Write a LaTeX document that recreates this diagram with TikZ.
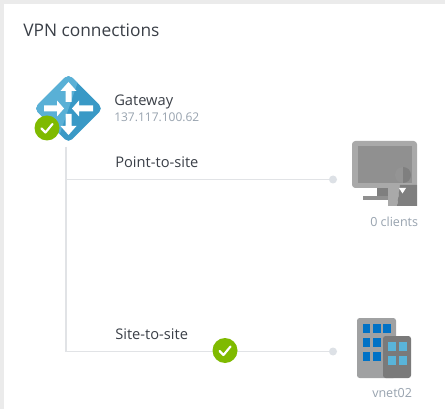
\documentclass[tikz,border=0pt]{standalone}
\usepackage{fontspec}
\setmainfont{Open Sans}
\definecolor{framegray}{HTML}{EBEBEB}
\definecolor{linegray}{HTML}{E1E3E6}
\definecolor{dotgray}{HTML}{DDE1E6}
\definecolor{inktext}{HTML}{3A3F47}
\definecolor{subtext}{HTML}{98A3AF}
\definecolor{okgreen}{HTML}{7FBA00}
\definecolor{azlight}{HTML}{59B0D6}
\definecolor{azdark}{HTML}{3999C6}
\definecolor{monframe}{HTML}{A9A9A9}
\definecolor{monscreen}{HTML}{909090}
\definecolor{mondark}{HTML}{7F7F7F}
\definecolor{bldlight}{HTML}{A0A1A2}
\definecolor{blddark}{HTML}{7A7A7A}
\definecolor{winblue}{HTML}{0072C6}
\definecolor{winlight}{HTML}{59B4D9}
\tikzset{
  x=0.75pt,y=-0.75pt,
  conn/.style={draw=linegray,line width=1.1pt},
  enddot/.style={circle,fill=dotgray,draw=none,minimum size=6pt,inner sep=0pt},
  okbadge/.style={circle,fill=okgreen,draw=none,minimum size=18.75pt,inner sep=0pt},
  tick/.style={draw=white,line width=1.6pt,line cap=round,line join=round},
  lab/.style={anchor=base west,inner sep=0pt,text=inktext,font=\fontsize{11}{13}\selectfont},
  sublab/.style={anchor=base west,inner sep=0pt,text=subtext,font=\fontsize{9.4}{11}\selectfont},
  titlelab/.style={anchor=base west,inner sep=0pt,text=inktext,font=\fontsize{13}{15}\selectfont},
}
\begin{document}
\begin{tikzpicture}
\useasboundingbox (0,0) rectangle (445,409);
\fill[white] (0,0) rectangle (445,409);
\fill[framegray] (0,0) rectangle (445,4);
\fill[framegray] (0,0) rectangle (4,409);

\node[titlelab] (title) at (23,37) {VPN connections};

% connectors
\coordinate (trunktop) at (66,147);
\coordinate (p2sjoin) at (66,179.5);
\coordinate (s2sjoin) at (66,351.5);
\node[enddot] (p2sdot) at (333,179.5) {};
\node[enddot] (s2sdot) at (333,351.5) {};
\draw[conn] (trunktop) -- (s2sjoin) -- (s2sdot);
\draw[conn] (p2sjoin) -- (p2sdot);

% gateway icon
\begin{scope}
  \clip[rounded corners=4pt] (34,108.5) -- (68.5,74) -- (103,108.5) -- (68.5,143) -- cycle;
  \fill[azdark] (30,70) rectangle (105,145);
  \fill[azlight] (30,70) -- (82,70) -- (56,145) -- (30,145) -- cycle;
\end{scope}
\fill[white] (68.5,82) -- (76.5,91) -- (71.5,91) -- (71.5,102) -- (65.5,102) -- (65.5,91) -- (60.5,91) -- cycle;
\fill[white] (68.5,135) -- (76.5,126) -- (71.5,126) -- (71.5,114) -- (65.5,114) -- (65.5,126) -- (60.5,126) -- cycle;
\fill[white] (64,108.5) -- (57,100.5) -- (57,105.5) -- (44,105.5) -- (44,111.5) -- (57,111.5) -- (57,116.5) -- cycle;
\fill[white] (72,108.5) -- (79,100.5) -- (79,105.5) -- (93,105.5) -- (93,111.5) -- (79,111.5) -- (79,116.5) -- cycle;
\node[okbadge] (gwok) at (47,128) {};
\draw[tick] (41.5,128.5) -- (45.5,132.5) -- (52.5,124);

\node[lab] (gwname) at (114,105.5) {Gateway};
\node[sublab,font=\fontsize{9}{11}\selectfont] (gwip) at (114,121.5) {137.117.100.62};
\node[lab] (p2slab) at (115,168) {Point-to-site};
\node[lab] (s2slab) at (115,339.5) {Site-to-site};

\node[okbadge] (s2sok) at (225,350.5) {};
\draw[tick] (219.5,351) -- (223.5,355) -- (230.5,346.5);

% clients icon
\fill[mondark!60!monframe] (363,196) rectangle (390,200.5);
\fill[mondark] (377,186) rectangle (389,196);
\fill[monframe,rounded corners=2.5pt] (352,141) rectangle (417,188);
\fill[monscreen] (358,146) rectangle (412,183);
\begin{scope}
  \clip (395,167) rectangle (403,183);
  \fill[monscreen!85!monframe] (403,175) circle [radius=8];
\end{scope}
\begin{scope}
  \clip (403,167) rectangle (411,183);
  \fill[mondark] (403,175) circle [radius=8];
\end{scope}
\fill[monframe] (388,186) -- (400,186) -- (397,206) -- (388,206) -- cycle;
\fill[mondark] (400,185) -- (417,185) -- (417,206) -- (397,206) -- cycle;
\fill[white] (399,188) -- (406,188) -- (402.5,193.5) -- cycle;
\node[sublab] (clientslab) at (370,226.5) {0 clients};

% site icon
\fill[bldlight,rounded corners=2pt] (357,318) rectangle (396,378);
\foreach \wx/\ww in {363/7,373/8,383/8}{
  \foreach \wy in {324,338,352}{
    \fill[winblue] (\wx,\wy) rectangle ++(\ww,9);
  }
}
\fill[blddark,rounded corners=2pt] (383,336) rectangle (411,378);
\foreach \wx in {388,399}{
  \foreach \wy in {342,356}{
    \fill[winlight] (\wx,\wy) rectangle ++(7.5,8.5);
  }
}
\node[sublab] (vnetlab) at (372,397) {vnet02};
\end{tikzpicture}
\end{document}
